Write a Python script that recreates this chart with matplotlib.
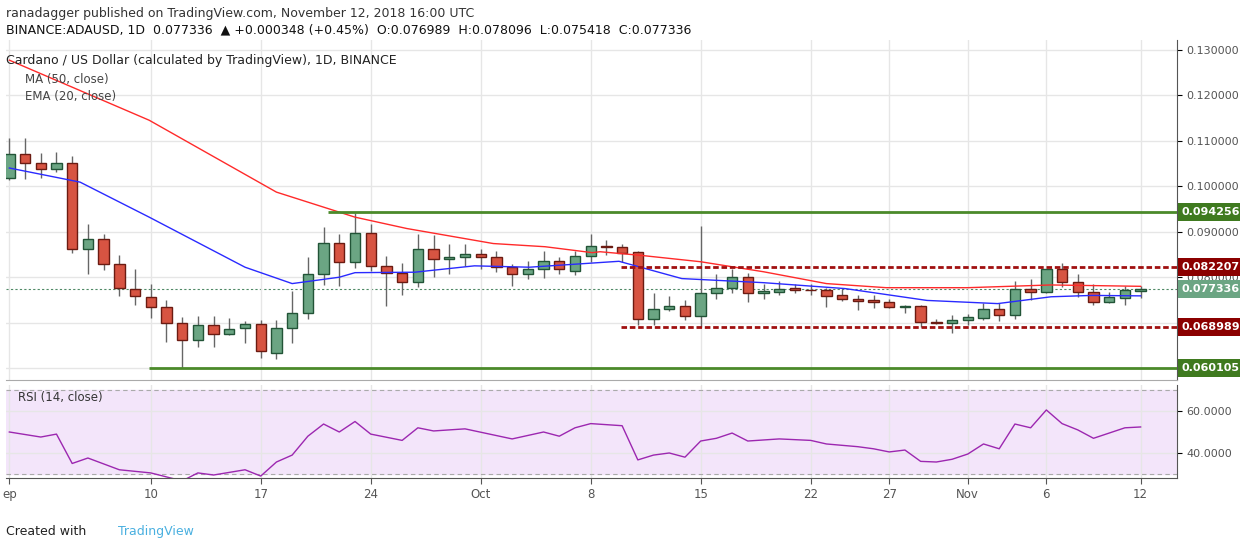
import numpy as np
import matplotlib.pyplot as plt
from matplotlib.patches import Rectangle

# daily candles, day 0 = Sep 1 2018
opens = [.1017, .1070, .1050, .1037, .1052, .0863, .0885, .0828, .0775, .0757,
         .0735, .0700, .0663, .0696, .0676, .0689, .0698, .0634, .0689, .0722,
         .0808, .0876, .0834, .0898, .0825, .0810, .0790, .0863, .0839, .0845,
         .0852, .0845, .0823, .0808, .0817, .0835, .0814, .0847, .0868, .0867,
         .0855, .0709, .0731, .0737, .0715, .0765, .0777, .0801, .0765, .0768,
         .0777, .0773, .0773, .0760, .0753, .0749, .0746, .0735, .0737, .0702,
         .0699, .0707, .0710, .0731, .0717, .0775, .0768, .0817, .0790, .0768,
         .0746, .0755, .076989]
closes = [.1070, .1050, .1037, .1052, .0863, .0885, .0828, .0777, .0759, .0735,
          .0700, .0663, .0694, .0676, .0687, .0698, .0637, .0689, .0722, .0808,
          .0876, .0834, .0898, .0825, .0810, .0790, .0863, .0839, .0845, .0850,
          .0845, .0822, .0808, .0817, .0835, .0817, .0847, .0869, .0867, .0853,
          .0709, .0731, .0737, .0715, .0766, .0777, .0801, .0765, .0769, .0775,
          .0773, .0772, .0759, .0752, .0748, .0746, .0735, .0736, .0702, .0700,
          .0707, .0712, .0731, .0717, .0775, .0768, .0817, .0790, .0768, .0746,
          .0756, .0771, .077336]
highs = [.1105, .1105, .1072, .1075, .1066, .0916, .0896, .0848, .0817, .0786,
         .0751, .0713, .0714, .0714, .0710, .0703, .0707, .0705, .0769, .0844,
         .0910, .0894, .0941, .0918, .0846, .0832, .0894, .0892, .0874, .0874,
         .0861, .0858, .0828, .0835, .0857, .0844, .0857, .0896, .0881, .0872,
         .0857, .0766, .0758, .0749, .0912, .0806, .0819, .0810, .0786, .0791,
         .0786, .0786, .0777, .0775, .0760, .0760, .0752, .0740, .0740, .0709,
         .0716, .0720, .0743, .0743, .0791, .0797, .0819, .0831, .0806, .0786,
         .0768, .0780, .078096]
lows = [.1013, .1015, .1018, .1031, .0853, .0806, .0815, .0759, .0738, .0710,
        .0658, .0601, .0647, .0647, .0672, .0655, .0622, .0620, .0655, .0708,
        .0783, .0781, .0820, .0814, .0737, .0762, .0779, .0800, .0808, .0824,
        .0819, .0811, .0781, .0796, .0798, .0807, .0805, .0834, .0848, .0834,
        .0694, .0694, .0725, .0707, .0691, .0752, .0766, .0746, .0752, .0760,
        .0765, .0760, .0734, .0748, .0727, .0733, .0732, .0721, .0690, .0698,
        .0677, .0694, .0707, .0704, .0709, .0749, .0765, .0779, .0757, .0738,
        .0743, .0740, .075418]

ma50_days = [0, 8.9, 17, 22, 25.3, 30.8, 34.1, 37.1, 37.6, 40.2, 44, 48, 52, 55.8, 61, 66.3, 72]
ma50_vals = [.1277, .1145, .0987, .0932, .0907, .0874, .0867, .0854, .0856, .0848,
             .0834, .0812, .0786, .0777, .0777, .0783, .0780]
ema20_days = [0, 4.5, 8.9, 15, 18, 21, 22, 25.8, 29.6, 33.1, 38.8, 42.8, 48, 53.2, 58.4, 62.9, 66.3, 68.9, 72]
ema20_vals = [.1040, .1009, .0932, .0822, .0786, .0800, .0810, .0811, .0825, .0822,
              .0835, .0797, .0788, .0775, .0749, .0742, .0757, .0760, .0759]

rsi_days = [0, 2, 3, 4, 5, 7, 9, 11, 12, 13, 15, 16, 17, 18, 19, 20, 21, 22, 23, 25,
            26, 27, 29, 32, 34, 35, 36, 37, 39, 40, 41, 42, 43, 44, 45, 46, 47, 49,
            51, 52, 54, 55, 56, 57, 58, 59, 60, 61, 62, 63, 64, 65, 66, 67, 68, 69,
            70, 71, 72]
rsi_vals = [50, 47.6, 49, 35, 37.6, 32, 30.5, 26.7, 30.5, 29.5, 32, 29, 35.7, 39, 48,
            53.8, 50, 55, 49, 46, 52, 50.5, 51.5, 46.7, 50, 48, 52, 54, 53, 36.7, 39,
            40, 38, 45.7, 47, 49.5, 45.7, 46.7, 46, 44.3, 43, 42, 40.5, 41.4, 36,
            35.7, 37, 39.5, 44.3, 42, 53.8, 52, 60.5, 54, 51, 47, 49.5, 52, 52.4]

tick_days = [0, 9, 16, 23, 30, 37, 44, 51, 56, 61, 66, 72]
tick_labels = ['ep', '10', '17', '24', 'Oct', '8', '15', '22', '27', 'Nov', '6', '12']
price_ticks = [0.06, 0.07, 0.08, 0.09, 0.10, 0.11, 0.12, 0.13]
res_high, res_mid, sup_mid, sup_low = 0.094256, 0.082207, 0.068989, 0.060105

plt.rcParams['font.family'] = 'DejaVu Sans'
fig = plt.figure(figsize=(12.4, 5.5), dpi=100)
ax = fig.add_axes([0.005, 0.309, 0.944, 0.618])
ax2 = fig.add_axes([0.005, 0.131, 0.944, 0.169], sharex=ax)

up_c, up_e = '#6ba583', '#225437'
dn_c, dn_e = '#d75442', '#6b1b12'
for i in range(len(opens)):
    o, c, h, l = opens[i], closes[i], highs[i], lows[i]
    ax.vlines(i, l, h, color='#666666', lw=1, zorder=2)
    up = c >= o
    ax.add_patch(Rectangle((i - 0.33, min(o, c)), 0.66, max(abs(c - o), 0.00008),
                           facecolor=up_c if up else dn_c, edgecolor=up_e if up else dn_e,
                           lw=1, zorder=3))

ax.plot(ma50_days, ma50_vals, color='#ff2a2a', lw=1, zorder=4)
ax.plot(ema20_days, ema20_vals, color='#2a2aff', lw=1, zorder=4)

ax.hlines(res_high, 20.3, 74.5, color='#4b8a2a', lw=2, zorder=5)
ax.hlines(sup_low, 8.9, 74.5, color='#4b8a2a', lw=2, zorder=5)
ax.hlines([res_mid, sup_mid], 38.9, 74.5, color='#a01010', lw=2, ls=(0, (2, 1)), zorder=5)
ax.axhline(closes[-1], color='#4f8a66', lw=0.8, ls=(0, (2, 2)), zorder=1)

ax.set_xlim(-0.2, 74.3)
ax.set_ylim(0.0574, 0.1321)
ax.set_yticks(price_ticks)
ax.set_xticks(tick_days)
ax.yaxis.tick_right()
ax.set_yticklabels([f'{v:.6f}' for v in price_ticks], color='#555555', fontsize=8)
ax.tick_params(axis='y', pad=3)
ax.grid(True, color='#e6e6e6', lw=1)
ax.tick_params(axis='x', labelbottom=False, length=0)
for s in ['top', 'left']:
    ax.spines[s].set_visible(False)
ax.spines['right'].set_color('#555555')
ax.spines['bottom'].set_color('#aaaaaa')

tag_x = 1.004
for val, col in [(res_high, '#3f7a1f'), (res_mid, '#8b0000'), (closes[-1], '#6ba583'),
                 (sup_mid, '#8b0000'), (sup_low, '#3f7a1f')]:
    ax.text(tag_x, val, f'{val:.6f}', transform=ax.get_yaxis_transform(), color='white',
            fontsize=8, fontweight='bold', va='center', ha='left',
            bbox=dict(boxstyle='square,pad=0.35', fc=col, ec='none'), zorder=10, clip_on=False)

ax2.axhspan(30, 70, color='#f3e5fa', zorder=0)
ax2.axhline(70, color='#aaaaaa', lw=0.8, ls=(0, (4, 3)))
ax2.axhline(30, color='#aaaaaa', lw=0.8, ls=(0, (4, 3)))
ax2.plot(rsi_days, rsi_vals, color='#9c27b0', lw=1)
ax2.set_ylim(28.1, 72.4)
ax2.set_yticks([40, 60])
ax2.yaxis.tick_right()
ax2.set_yticklabels(['40.0000', '60.0000'], color='#555555', fontsize=8)
ax2.grid(True, color='#e6e6e6', lw=1)
ax2.set_xticks(tick_days)
ax2.set_xticklabels(tick_labels, color='#555555', fontsize=8.5)
ax2.tick_params(axis='x', length=4, color='#555555')
for s in ['top', 'left']:
    ax2.spines[s].set_visible(False)
ax2.spines['right'].set_color('#555555')
ax2.spines['bottom'].set_color('#555555')
ax2.text(0.01, 0.83, 'RSI (14, close)', transform=ax2.transAxes, fontsize=8.5, color='#333333')

fig.text(0.005, 0.975, 'ranadagger published on TradingView.com, November 12, 2018 16:00 UTC',
         fontsize=9, color='#333333', va='center')
fig.text(0.005, 0.945, 'BINANCE:ADAUSD, 1D  0.077336  \u25b2 +0.000348 (+0.45%)  O:0.076989  H:0.078096  L:0.075418  C:0.077336',
         fontsize=9, color='#111111', va='center')
fig.text(0.005, 0.89, 'Cardano / US Dollar (calculated by TradingView), 1D, BINANCE',
         fontsize=9, color='#222222', va='center')
fig.text(0.02, 0.855, 'MA (50, close)', fontsize=8.5, color='#444444', va='center')
fig.text(0.02, 0.825, 'EMA (20, close)', fontsize=8.5, color='#444444', va='center')
fig.text(0.005, 0.033, 'Created with', fontsize=9, color='#222222', va='center')
fig.text(0.095, 0.033, 'TradingView', fontsize=9, color='#4ab0e0', va='center')

fig.savefig('out.png', dpi=100)
